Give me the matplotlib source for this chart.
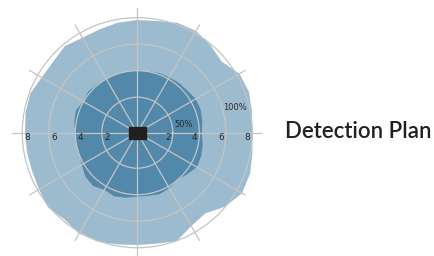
import numpy as np
import matplotlib.pyplot as plt
from matplotlib.patches import Rectangle

# angles of the read-off points (degrees, counter-clockwise from east)
angles = np.arange(0, 360, 10)

# outer (light) coverage, in axis units
outer = [7.99, 8.11, 8.29, 8.22, 7.65, 7.92, 8.18, 8.14, 7.88, 7.82,
         7.75, 7.62, 7.59, 7.84, 7.62, 7.65, 7.92, 7.88, 7.79, 7.77,
         7.77, 7.88, 8.11, 7.87, 8.11, 8.07, 7.88, 7.79, 7.82, 8.02,
         7.46, 7.28, 7.99, 8.45, 8.37, 8.14]

# inner (dark) coverage
inner = [4.18, 4.30, 4.41, 4.41, 4.26, 4.22, 4.15, 4.11, 4.03, 3.98,
         3.98, 3.98, 4.03, 4.07, 4.15, 4.02, 4.26, 4.15, 4.02, 4.01,
         3.98, 4.15, 4.45, 4.55, 4.30, 4.43, 4.30, 4.15, 4.15, 4.26,
         4.15, 3.98, 4.22, 4.52, 4.45, 4.33]

ticks = [2, 4, 6, 8]
pct_labels = ["50%", "100%"]
pct_pos = [(10.6, 2.88), (14.2, 6.92)]  # (deg, r)

light = "#9dbbcf"
dark = "#5289aa"
grid_c = "#c4c4c4"
txt_c = "#2a2a2a"

fig = plt.figure(figsize=(4.35, 2.56), dpi=100)
ax = fig.add_axes([0.0283, -0.0066, 0.5747, 0.9766], projection="polar")

th = np.deg2rad(angles)
ax.fill(th, outer, color=light, lw=0, zorder=1)
ax.fill(th, inner, color=dark, lw=0, zorder=1.5)

ax.set_ylim(-0.68, 8.75)
ax.set_rgrids(ticks, labels=[""] * len(ticks))
ax.set_thetagrids(np.arange(0, 360, 30), labels=[""] * 12)
ax.set_axisbelow(False)
ax.grid(True, color=grid_c, lw=0.9)
ax.spines["polar"].set_visible(False)
ax.set_facecolor("none")

# radial tick labels on both sides of the horizontal axis
for v in ticks:
    ax.annotate(str(v), xy=(0, v), xytext=(-5, -5), textcoords="offset pixels",
                ha="center", va="center", fontsize=6.5, color=txt_c, zorder=4)
    ax.annotate(str(v), xy=(np.pi, v), xytext=(5, -5), textcoords="offset pixels",
                ha="center", va="center", fontsize=6.5, color=txt_c, zorder=4)

for lab, (a, r) in zip(pct_labels, pct_pos):
    ax.text(np.deg2rad(a), r, lab, ha="center", va="center",
            fontsize=6, color=txt_c, zorder=4)

# black block in the centre
ax.add_patch(Rectangle((0.5 - 0.0334, 0.5 - 0.0234), 0.0668, 0.0468,
                       transform=ax.transAxes, color="#231f20", zorder=5))

fig.text(0.655, 0.485, "Detection Plan", fontsize=16, fontweight="semibold",
         family="Lato", color="#231f20", ha="left", va="center")

fig.savefig("out.png", dpi=100)
